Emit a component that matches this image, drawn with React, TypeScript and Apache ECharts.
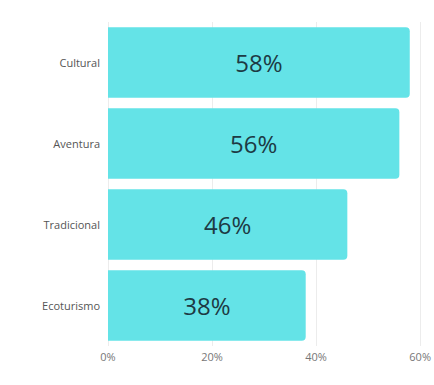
import React, { useEffect, useRef } from "react";
import * as echarts from "echarts";

const categories = ["Cultural", "Aventura", "Tradicional", "Ecoturismo"];
const values = [58, 56, 46, 38];
const xTicks = { min: 0, max: 60, interval: 20 };

export default function App() {
  const ref = useRef<HTMLDivElement>(null);
  useEffect(() => {
    if (!ref.current) return;
    const chart = echarts.init(ref.current, null, { renderer: "svg" });
    chart.setOption({
      animation: false,
      backgroundColor: "#ffffff",
      grid: { left: 108, right: 13, top: 22, bottom: 39, containLabel: false },
      xAxis: {
        type: "value",
        min: xTicks.min,
        max: xTicks.max,
        interval: xTicks.interval,
        axisLine: { show: false },
        axisTick: { show: false },
        splitLine: { show: true, lineStyle: { color: "#ececec", width: 1 } },
        axisLabel: {
          formatter: "{value}%",
          color: "#777",
          fontSize: 11,
          fontFamily: "'Open Sans', sans-serif",
          margin: 5,
        },
      },
      yAxis: {
        type: "category",
        inverse: true,
        data: categories,
        axisLine: { show: false },
        axisTick: { show: false },
        axisLabel: {
          color: "#555",
          fontSize: 11,
          fontFamily: "'Open Sans', sans-serif",
          margin: 8,
        },
      },
      series: [
        {
          type: "bar",
          data: values,
          barCategoryGap: "13%",
          itemStyle: { color: "#64e3e7", borderRadius: [0, 4, 4, 0] },
          label: {
            show: true,
            position: "inside",
            formatter: "{c}%",
            color: "#1d3a44",
            fontSize: 24,
            fontFamily: "'Open Sans', sans-serif",
          },
        },
      ],
    });
    return () => chart.dispose();
  }, []);
  return (
    <div
      ref={ref}
      style={{ position: "fixed", left: 0, top: 0, width: 434, height: 385 }}
    />
  );
}
